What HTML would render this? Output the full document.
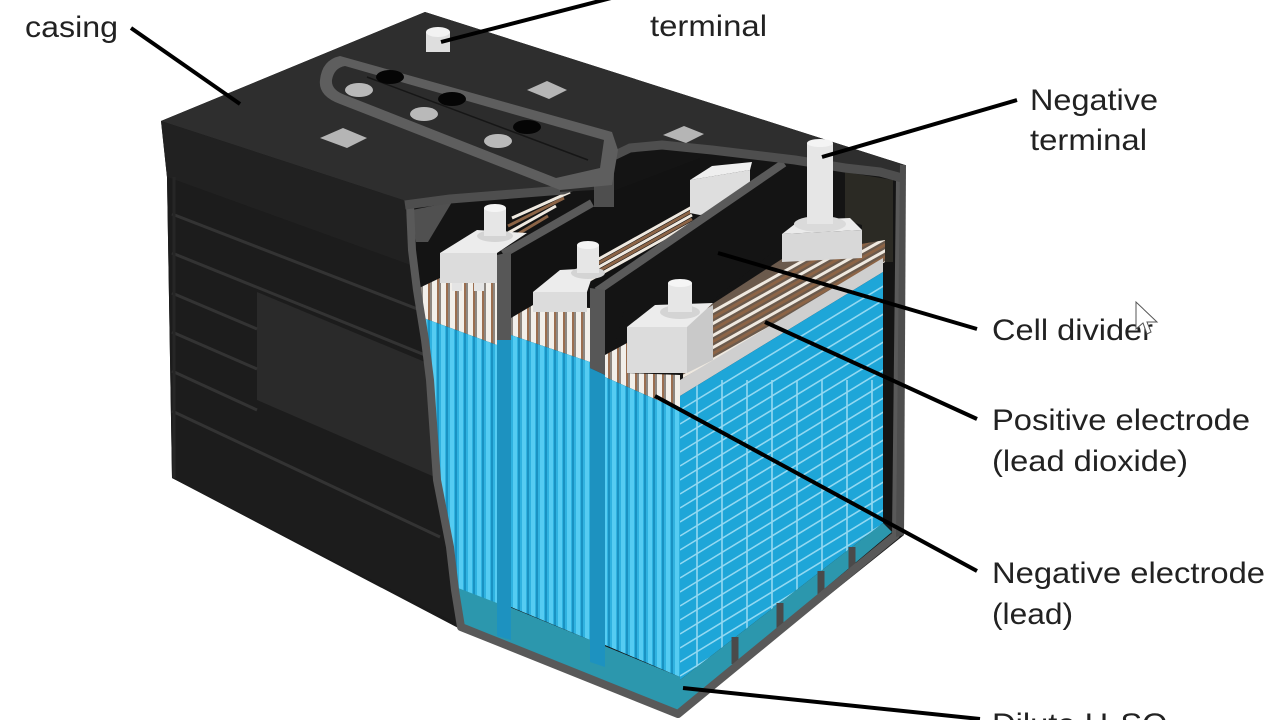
<!DOCTYPE html>
<html><head><meta charset="utf-8">
<style>
html,body{margin:0;padding:0;background:#fff;}
svg{display:block;}
text{font-family:"Liberation Sans",Arial,sans-serif;font-size:30px;fill:#222;}
</style></head><body>
<svg width="1280" height="720" viewBox="0 0 1280 720" xmlns="http://www.w3.org/2000/svg">
<defs>
<pattern id="blue" patternUnits="userSpaceOnUse" width="9" height="10">
 <rect width="9" height="10" fill="#2fb2e0"/>
 <rect x="0" width="4" height="10" fill="#55ccf2"/>
 <rect x="5" width="2" height="10" fill="#1a92c2"/>
</pattern>
<pattern id="plates" patternUnits="userSpaceOnUse" width="9" height="10">
 <rect width="9" height="10" fill="#f2efea"/>
 <rect x="5" width="2" height="10" fill="#9b6e4f"/>
 <rect x="7" width="2" height="10" fill="#8d8781"/>
</pattern>
<clipPath id="gridclip"><polygon points="680,396 883,272 883,523 680,680"/></clipPath>
<clipPath id="c3clip"><polygon points="700,312 785,257 885,240 885,262 683,382 683,350"/></clipPath>
</defs>

<!-- Backdrop silhouette to avoid gaps -->
<polygon points="161,121 425,12 905,165 904,535 678,716 462,630 172,478 167,177" fill="#1a1a1a"/>

<!-- Lid top face -->
<polygon points="161,121 425,12 905,165 900,178 845,168 795,160 712,150 662,145 630,148 605,160 590,180 563,190 450,199 405,205 403,200" fill="#2e2e2e"/>
<!-- Lid front face -->
<polygon points="161,121 403,200 410,205 412,250 413,266 167,177" fill="#212121"/>
<!-- Left face -->
<polygon points="167,177 413,266 417,290 425,340 430,380 437,480 450,547 455,590 460,625 172,478" fill="#1c1c1c"/>
<!-- recessed panel -->
<polygon points="257,292 425,362 437,478 257,400" fill="#2a2a2a"/>
<!-- rib lines -->
<g stroke="#333" stroke-width="3" fill="none">
 <line x1="172" y1="214" x2="420" y2="310"/>
 <line x1="172" y1="253" x2="425" y2="355"/>
 <line x1="172" y1="293" x2="257" y2="329"/>
 <line x1="172" y1="332" x2="257" y2="369"/>
 <line x1="172" y1="371" x2="257" y2="410"/>
 <line x1="172" y1="411" x2="440" y2="537"/>
</g>
<line x1="174" y1="177" x2="174" y2="478" stroke="#262626" stroke-width="3"/>

<!-- Interior -->
<polygon points="405,205 450,199 563,190 590,180 605,160 630,148 662,145 712,150 795,160 845,168 900,178 896,535 678,714 461,627 455,590 450,547 437,480 430,380 425,340 417,290 412,250" fill="#141414"/>
<polygon points="845,172 893,180 893,262 862,262 862,225 845,220" fill="#2b2a24"/>
<polygon points="412,210 452,202 428,242 416,242" fill="#505050"/>

<!-- Cell 1 back stripes -->
<g stroke-width="3">
 <line x1="508" y1="240" x2="548" y2="216" stroke="#8c6446"/>
 <line x1="508" y1="233" x2="556" y2="206" stroke="#efe9e0"/>
 <line x1="508" y1="226" x2="564" y2="198" stroke="#8c6446"/>
 <line x1="512" y1="218" x2="570" y2="192" stroke="#efe9e0"/>
</g>

<!-- Divider A panel -->
<polygon points="497,255 590,200 700,158 700,215 600,290 590,380 511,380 511,260" fill="#121212"/>
<line x1="503" y1="254" x2="592" y2="203" stroke="#5a5a5a" stroke-width="8"/>

<!-- Cell 2 stripes band -->
<g stroke-width="3">
 <line x1="588" y1="265" x2="692" y2="207" stroke="#efe9e0"/>
 <line x1="588" y1="269" x2="692" y2="211" stroke="#8c6446"/>
 <line x1="588" y1="273" x2="692" y2="215" stroke="#efe9e0"/>
 <line x1="588" y1="277" x2="692" y2="219" stroke="#8c6446"/>
 <line x1="588" y1="281" x2="692" y2="223" stroke="#efe9e0"/>
</g>
<!-- Cell 2 back block -->
<polygon points="690,180 750,170 750,205 700,215 690,213" fill="#dedede"/>
<polygon points="690,180 712,166 752,162 750,170" fill="#efefef"/>

<!-- Divider B panel -->
<polygon points="590,292 782,160 800,160 800,230 713,300 627,300 605,380 590,380" fill="#141414"/>
<line x1="597" y1="291" x2="784" y2="163" stroke="#5a5a5a" stroke-width="8"/>

<!-- Cell 3 stripes -->
<g clip-path="url(#c3clip)">
 <rect x="680" y="230" width="210" height="160" fill="#6b5a4c"/>
 <g stroke-width="3">
  <line x1="680" y1="330" x2="890" y2="212" stroke="#efe9e0"/>
  <line x1="680" y1="336" x2="890" y2="218" stroke="#8c6446"/>
  <line x1="680" y1="342" x2="890" y2="224" stroke="#efe9e0"/>
  <line x1="680" y1="348" x2="890" y2="230" stroke="#8c6446"/>
  <line x1="680" y1="354" x2="890" y2="236" stroke="#efe9e0"/>
  <line x1="680" y1="360" x2="890" y2="242" stroke="#8c6446"/>
  <line x1="680" y1="366" x2="890" y2="248" stroke="#efe9e0"/>
  <line x1="680" y1="372" x2="890" y2="254" stroke="#8c6446"/>
  <line x1="680" y1="378" x2="890" y2="260" stroke="#efe9e0"/>
  <line x1="680" y1="384" x2="890" y2="266" stroke="#8c6446"/>
  <line x1="680" y1="390" x2="890" y2="272" stroke="#efe9e0"/>
 </g>
</g>

<!-- Right face top strip & grid -->
<polygon points="680,380 883,258 883,272 680,396" fill="#cfcfcf"/>
<polygon points="680,396 883,272 883,523 680,680" fill="#1ea6d8"/>
<g clip-path="url(#gridclip)" stroke="#93d9f2" stroke-width="1.6">
 <path d="M697,380V700M722,380V700M747,380V700M772,380V700M797,380V700M822,380V700M847,380V700M872,380V700"/>
 <path d="M680,410L890,282M680,424L890,296M680,438L890,310M680,452L890,324M680,466L890,338M680,480L890,352M680,494L890,366M680,508L890,380M680,522L890,394M680,536L890,408M680,550L890,422M680,564L890,436M680,578L890,450M680,592L890,464M680,606L890,478M680,620L890,492M680,634L890,506M680,648L890,520M680,662L890,534M680,676L890,548"/>
</g>

<!-- Teal floors -->
<polygon points="680,680 883,523 892,532 678,712" fill="#2c97ad"/>
<polygon points="456,585 680,677 680,712 462,625" fill="#2c97ad"/>
<g stroke="#4a4a4a" stroke-width="7">
 <line x1="735" y1="637" x2="735" y2="664"/>
 <line x1="780" y1="603" x2="780" y2="628"/>
 <line x1="821" y1="571" x2="821" y2="594"/>
 <line x1="852" y1="547" x2="852" y2="568"/>
</g>

<!-- Front cells -->
<polygon points="415,290 440,278 497,282 497,345 418,316" fill="url(#plates)"/>
<polygon points="418,316 497,345 497,603 458,588 450,547 437,480 430,380 422,330" fill="url(#blue)"/>
<polygon points="511,318 533,305 590,308 590,362 511,335" fill="url(#plates)"/>
<polygon points="511,335 590,362 590,640 511,607" fill="url(#blue)"/>
<polygon points="605,355 627,343 627,373 680,375 680,410 605,377" fill="url(#plates)"/>
<polygon points="605,377 680,410 680,677 605,645" fill="url(#blue)"/>

<!-- Divider front edges -->
<polygon points="497,255 511,252 511,340 497,340" fill="#575757"/>
<polygon points="497,340 511,340 511,640 497,636" fill="#1d92c0"/>
<polygon points="590,288 605,290 605,375 590,368" fill="#575757"/>
<polygon points="590,368 605,375 605,667 590,662" fill="#1d92c0"/>

<!-- Cell 1 block -->
<polygon points="440,253 497,253 497,283 440,283" fill="#dcdcdc"/>
<polygon points="440,253 477,230 527,233 497,253" fill="#ececec"/>
<rect x="452" y="283" width="10" height="8" fill="#e4e4e4"/>
<rect x="474" y="283" width="10" height="8" fill="#e4e4e4"/>
<ellipse cx="495" cy="236" rx="18" ry="6" fill="#d4d4d4"/>
<rect x="484" y="208" width="22" height="28" fill="#e6e6e6"/>
<ellipse cx="495" cy="208" rx="11" ry="4" fill="#f5f5f5"/>
<!-- Cell 2 block -->
<polygon points="533,292 587,292 587,312 533,312" fill="#dcdcdc"/>
<polygon points="533,292 560,270 595,268 587,292" fill="#ececec"/>
<ellipse cx="588" cy="273" rx="17" ry="6" fill="#d4d4d4"/>
<rect x="577" y="245" width="22" height="28" fill="#e6e6e6"/>
<ellipse cx="588" cy="245" rx="11" ry="4" fill="#f5f5f5"/>
<!-- Cell 3 block -->
<polygon points="627,327 687,327 687,373 627,373" fill="#dcdcdc"/>
<polygon points="687,320 713,305 713,360 687,373" fill="#c9c9c9"/>
<polygon points="627,327 655,305 713,303 687,327" fill="#ececec"/>
<ellipse cx="680" cy="312" rx="20" ry="7" fill="#d4d4d4"/>
<rect x="668" y="283" width="24" height="29" fill="#e6e6e6"/>
<ellipse cx="680" cy="283" rx="12" ry="4" fill="#f5f5f5"/>
<!-- Negative terminal block -->
<polygon points="782,234 862,230 862,258 782,262" fill="#d8d8d8"/>
<polygon points="782,234 800,220 850,218 862,230" fill="#ebebeb"/>

<!-- Cut wall and lid band -->
<polyline points="410,205 412,250 417,290 425,340 430,380 437,480 450,547 455,590 461,627 678,714 896,535 900,178" fill="none" stroke="#595959" stroke-width="8" stroke-linejoin="round"/>
<polyline points="405,205 450,199 563,190 590,180 605,160 630,148 662,145 712,150 795,160 845,168 880,172 902,178" fill="none" stroke="#4e4e4e" stroke-width="9" stroke-linejoin="round"/>
<rect x="594" y="145" width="20" height="62" fill="#4e4e4e"/>
<polygon points="560,176 594,168 594,190 560,192" fill="#2a2a2a"/>
<polygon points="900,165 906,165 904,535 896,537" fill="#4e4e4e"/>

<!-- Negative terminal post (over band) -->
<ellipse cx="820" cy="224" rx="26" ry="8" fill="#dadada"/>
<rect x="807" y="143" width="26" height="81" fill="#e6e6e6"/>
<ellipse cx="820" cy="143" rx="13" ry="4" fill="#f4f4f4"/>

<!-- Lid features: vent strip -->
<path d="M340,56 L612,132 L618,150 L612,185 L560,190 L340,104 Q318,96 320,80 Q322,60 340,56 Z" fill="#5e5e5e"/>
<path d="M345,66 L604,140 L600,168 L556,178 L345,95 Q331,90 332,80 Q334,68 345,66 Z" fill="#2c2c2c"/>
<line x1="367" y1="77" x2="588" y2="160" stroke="#161616" stroke-width="1.5"/>
<g fill="#050505">
 <ellipse cx="390" cy="77" rx="14" ry="7"/>
 <ellipse cx="452" cy="99" rx="14" ry="7"/>
 <ellipse cx="527" cy="127" rx="14" ry="7"/>
</g>
<g fill="#b9b9b9">
 <ellipse cx="359" cy="90" rx="14" ry="7"/>
 <ellipse cx="424" cy="114" rx="14" ry="7"/>
 <ellipse cx="498" cy="141" rx="14" ry="7"/>
</g>
<g fill="#b5b5b5">
 <polygon points="320,138 343,128 367,138 347,148"/>
 <polygon points="527,90 547,81 567,90 549,99"/>
 <polygon points="663,135 684,126 704,134 686,143"/>
</g>
<!-- positive terminal -->
<rect x="426" y="32" width="24" height="20" fill="#dedede"/>
<ellipse cx="438" cy="32" rx="12" ry="5" fill="#f2f2f2"/>

<!-- Leader lines -->
<g stroke="#000" stroke-width="4" fill="none">
 <line x1="131" y1="28" x2="240" y2="104"/>
 <line x1="441" y1="42" x2="615" y2="-3"/>
 <line x1="822" y1="157" x2="1017" y2="100"/>
 <line x1="718" y1="253" x2="977" y2="329"/>
 <line x1="765" y1="322" x2="977" y2="419"/>
 <line x1="655" y1="396" x2="977" y2="571"/>
 <line x1="683" y1="688" x2="980" y2="719"/>
</g>

<!-- Labels -->
<text x="25" y="37" textLength="93" lengthAdjust="spacingAndGlyphs">casing</text>
<text x="650" y="36" textLength="117" lengthAdjust="spacingAndGlyphs">terminal</text>
<text x="1030" y="110" textLength="128" lengthAdjust="spacingAndGlyphs">Negative</text>
<text x="1030" y="150" textLength="117" lengthAdjust="spacingAndGlyphs">terminal</text>
<text x="992" y="340" textLength="161" lengthAdjust="spacingAndGlyphs">Cell divider</text>
<text x="992" y="430" textLength="258" lengthAdjust="spacingAndGlyphs">Positive electrode</text>
<text x="992" y="471" textLength="196" lengthAdjust="spacingAndGlyphs">(lead dioxide)</text>
<text x="992" y="583" textLength="273" lengthAdjust="spacingAndGlyphs">Negative electrode</text>
<text x="992" y="624" textLength="81" lengthAdjust="spacingAndGlyphs">(lead)</text>
<text transform="translate(992,734) scale(1.09,1)">Dilute H<tspan font-size="20" dy="6">2</tspan><tspan dy="-6">SO</tspan><tspan font-size="20" dy="6">4</tspan></text>

<!-- Cursor -->
<polygon points="1136,302 1136,329 1143,323 1147,334 1151,332 1147,322 1157,322" fill="#fff" stroke="#555" stroke-width="1"/>
</svg>
</body></html>
